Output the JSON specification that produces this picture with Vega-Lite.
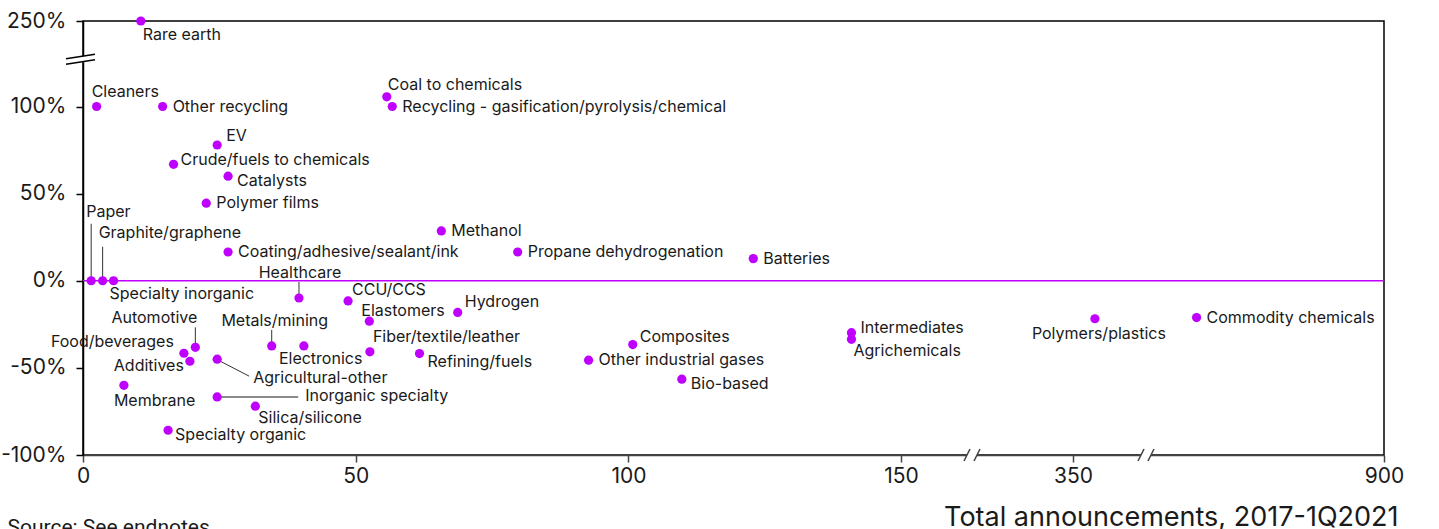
{
  "$schema": "https://vega.github.io/schema/vega-lite/v6.json",
  "width": 1301,
  "height": 434,
  "autosize": {"type": "none"},
  "padding": {"left": 83, "top": 21, "right": 55, "bottom": 74},
  "config": {
    "view": {"stroke": "#000", "strokeWidth": 1.5},
    "text": {"font": "Inter", "fontSize": 16, "fill": "#1a1a1a", "baseline": "middle"},
    "axis": {"labelFont": "Inter", "titleFont": "Inter", "labelColor": "#1a1a1a", "titleColor": "#1a1a1a", "grid": false}
  },
  "data": {"values": [
    {"category": "Rare earth", "announcements": 10.6, "change": 250},
    {"category": "Cleaners", "announcements": 2.5, "change": 100},
    {"category": "Other recycling", "announcements": 14.6, "change": 100},
    {"category": "Coal to chemicals", "announcements": 55.7, "change": 117},
    {"category": "Recycling - gasification/pyrolysis/chemical", "announcements": 56.7, "change": 100},
    {"category": "EV", "announcements": 24.6, "change": 77.9},
    {"category": "Crude/fuels to chemicals", "announcements": 16.6, "change": 66.8},
    {"category": "Catalysts", "announcements": 26.6, "change": 60},
    {"category": "Polymer films", "announcements": 22.6, "change": 44.5},
    {"category": "Paper", "announcements": 1.5, "change": 0},
    {"category": "Graphite/graphene", "announcements": 3.6, "change": 0},
    {"category": "Specialty inorganic", "announcements": 5.6, "change": 0},
    {"category": "Coating/adhesive/sealant/ink", "announcements": 26.6, "change": 16.5},
    {"category": "Methanol", "announcements": 65.7, "change": 28.6},
    {"category": "Propane dehydrogenation", "announcements": 79.7, "change": 16.5},
    {"category": "Batteries", "announcements": 122.9, "change": 12.7},
    {"category": "Healthcare", "announcements": 39.6, "change": -9.9},
    {"category": "CCU/CCS", "announcements": 48.6, "change": -11.6},
    {"category": "Elastomers", "announcements": 52.5, "change": -23.2},
    {"category": "Hydrogen", "announcements": 68.7, "change": -18.2},
    {"category": "Fiber/textile/leather", "announcements": 52.6, "change": -40.8},
    {"category": "Refining/fuels", "announcements": 61.7, "change": -41.8},
    {"category": "Composites", "announcements": 100.8, "change": -36.6},
    {"category": "Other industrial gases", "announcements": 92.7, "change": -45.6},
    {"category": "Bio-based", "announcements": 109.8, "change": -56.5},
    {"category": "Intermediates", "announcements": 140.9, "change": -29.8},
    {"category": "Agrichemicals", "announcements": 140.9, "change": -33.6},
    {"category": "Polymers/plastics", "announcements": 371, "change": -21.8},
    {"category": "Commodity chemicals", "announcements": 522, "change": -21.1},
    {"category": "Automotive", "announcements": 20.6, "change": -38.2},
    {"category": "Food/beverages", "announcements": 18.5, "change": -41.6},
    {"category": "Additives", "announcements": 19.6, "change": -46.2},
    {"category": "Metals/mining", "announcements": 34.6, "change": -37.4},
    {"category": "Electronics", "announcements": 40.5, "change": -37.4},
    {"category": "Agricultural-other", "announcements": 24.6, "change": -45},
    {"category": "Membrane", "announcements": 7.5, "change": -60},
    {"category": "Inorganic specialty", "announcements": 24.6, "change": -66.7},
    {"category": "Silica/silicone", "announcements": 31.6, "change": -72},
    {"category": "Specialty organic", "announcements": 15.6, "change": -85.8}
  ]},
  "layer": [
    {
      "data": {"values": [{"change": 0}]},
      "mark": {"type": "rule", "color": "#BF00FF", "strokeWidth": 1.5},
      "encoding": {
        "y": {"field": "change", "type": "quantitative", "scale": {"domain": [-100, 100, 250], "range": [434, 85.5, 0], "nice": false, "zero": false}}
      }
    },
    {
      "mark": {"type": "point", "opacity": 0},
      "encoding": {
        "x": {"field": "announcements", "type": "quantitative",
          "scale": {"domain": [0, 163, 350, 420, 900], "range": [0, 889, 990, 1063, 1301], "nice": false, "zero": false},
          "axis": {"values": [0, 50, 100, 150, 350, 900], "title": "Total announcements, 2017-1Q2021", "domainColor": "#444", "domainWidth": 1.5, "tickColor": "#444", "tickWidth": 1.5, "tickSize": 7, "labelFontSize": 21, "labelPadding": 3, "labelFlush": false, "labelOverlap": false, "titleFontSize": 27, "titleFontWeight": "normal", "titleAnchor": "end", "titleX": 1315, "titleY": 70, "titleAlign": "right", "titleBaseline": "alphabetic"}},
        "y": {"field": "change", "type": "quantitative",
          "scale": {"domain": [-100, 100, 250], "range": [434, 85.5, 0], "nice": false, "zero": false},
          "axis": {"values": [-100, -50, 0, 50, 100, 250], "labelExpr": "datum.value + '%'", "domainColor": "#000", "domainWidth": 1.5, "tickColor": "#000", "tickWidth": 1.5, "tickSize": 7, "labelPadding": 10, "labelFontSize": 21, "labelOverlap": false, "title": "Source: See endnotes", "titleAngle": 0, "titleX": -76, "titleY": 512, "titleAlign": "left", "titleBaseline": "alphabetic", "titleFont": "Roboto", "titleFontSize": 21, "titleFontWeight": "normal"}}
      }
    },
    {
      "data": {"values": [{"announcements": 163, "change": -100}, {"announcements": 420, "change": -100}]},
      "layer": [
        {"mark": {"type": "rule", "color": "#fff", "strokeWidth": 5, "xOffset": -5, "x2Offset": 5}},
        {"mark": {"type": "rule", "color": "#444", "strokeWidth": 1.5, "xOffset": -8, "yOffset": 6, "x2Offset": -2, "y2Offset": -6}},
        {"mark": {"type": "rule", "color": "#444", "strokeWidth": 1.5, "xOffset": 2, "yOffset": 6, "x2Offset": 8, "y2Offset": -6}}
      ],
      "encoding": {
        "x": {"field": "announcements", "type": "quantitative", "scale": {"domain": [0, 163, 350, 420, 900], "range": [0, 889, 990, 1063, 1301], "nice": false, "zero": false}},
        "x2": {"field": "announcements"},
        "y": {"field": "change", "type": "quantitative", "scale": {"domain": [-100, 100, 250], "range": [434, 85.5, 0], "nice": false, "zero": false}},
        "y2": {"field": "change"}
      }
    },
    {
      "data": {"values": [{"announcements": 0, "change": 183}]},
      "layer": [
        {"mark": {"type": "rule", "color": "#fff", "strokeWidth": 5, "yOffset": -3, "y2Offset": 3}},
        {"mark": {"type": "rule", "color": "#000", "strokeWidth": 1.5, "xOffset": -17, "yOffset": -0.5, "x2Offset": 12, "y2Offset": -5}},
        {"mark": {"type": "rule", "color": "#000", "strokeWidth": 1.5, "xOffset": -17, "yOffset": 5, "x2Offset": 12, "y2Offset": 0.5}}
      ],
      "encoding": {
        "x": {"field": "announcements", "type": "quantitative", "scale": {"domain": [0, 163, 350, 420, 900], "range": [0, 889, 990, 1063, 1301], "nice": false, "zero": false}},
        "x2": {"field": "announcements"},
        "y": {"field": "change", "type": "quantitative", "scale": {"domain": [-100, 100, 250], "range": [434, 85.5, 0], "nice": false, "zero": false}},
        "y2": {"field": "change"}
      }
    },
    {
      "encoding": {
        "x": {"field": "announcements", "type": "quantitative", "scale": {"domain": [0, 163, 350, 420, 900], "range": [0, 889, 990, 1063, 1301], "nice": false, "zero": false}},
        "x2": {"field": "announcements"},
        "y": {"field": "change", "type": "quantitative", "scale": {"domain": [-100, 100, 250], "range": [434, 85.5, 0], "nice": false, "zero": false}},
        "y2": {"field": "change"}
      },
      "layer": [
        {"transform": [{"filter": "datum.category === 'Paper'"}], "mark": {"type": "rule", "color": "#333", "strokeWidth": 1, "y2Offset": -57}},
        {"transform": [{"filter": "datum.category === 'Graphite/graphene'"}], "mark": {"type": "rule", "color": "#333", "strokeWidth": 1, "y2Offset": -34}},
        {"transform": [{"filter": "datum.category === 'Healthcare'"}], "mark": {"type": "rule", "color": "#333", "strokeWidth": 1, "y2Offset": -16}},
        {"transform": [{"filter": "datum.category === 'Automotive'"}], "mark": {"type": "rule", "color": "#333", "strokeWidth": 1, "y2Offset": -20}},
        {"transform": [{"filter": "datum.category === 'Metals/mining'"}], "mark": {"type": "rule", "color": "#333", "strokeWidth": 1, "y2Offset": -16}},
        {"transform": [{"filter": "datum.category === 'Agricultural-other'"}], "mark": {"type": "rule", "color": "#333", "strokeWidth": 1, "xOffset": 3, "yOffset": 2, "x2Offset": 32, "y2Offset": 17}},
        {"transform": [{"filter": "datum.category === 'Inorganic specialty'"}], "mark": {"type": "rule", "color": "#8a8a8a", "strokeWidth": 2, "x2Offset": 81}}
      ]
    },
    {
      "mark": {"type": "circle", "size": 85, "color": "#BF00FF", "opacity": 1},
      "encoding": {
        "x": {"field": "announcements", "type": "quantitative", "scale": {"domain": [0, 163, 350, 420, 900], "range": [0, 889, 990, 1063, 1301], "nice": false, "zero": false}},
        "y": {"field": "change", "type": "quantitative", "scale": {"domain": [-100, 100, 250], "range": [434, 85.5, 0], "nice": false, "zero": false}}
      }
    },
    {
      "encoding": {
        "x": {"field": "announcements", "type": "quantitative", "scale": {"domain": [0, 163, 350, 420, 900], "range": [0, 889, 990, 1063, 1301], "nice": false, "zero": false}},
        "y": {"field": "change", "type": "quantitative", "scale": {"domain": [-100, 100, 250], "range": [434, 85.5, 0], "nice": false, "zero": false}},
        "text": {"field": "category"}
      },
      "layer": [
        {"transform": [{"filter": {"field": "category", "oneOf": ["Other recycling", "Recycling - gasification/pyrolysis/chemical", "Polymer films", "Coating/adhesive/sealant/ink", "Methanol", "Propane dehydrogenation", "Batteries", "Other industrial gases", "Commodity chemicals"]}}], "mark": {"type": "text", "align": "left", "dx": 10, "dy": 0}},
        {"transform": [{"filter": "datum.category === 'Rare earth'"}], "mark": {"type": "text", "align": "left", "dx": 2, "dy": 14}},
        {"transform": [{"filter": "datum.category === 'Cleaners'"}], "mark": {"type": "text", "align": "left", "dx": -5, "dy": -15}},
        {"transform": [{"filter": "datum.category === 'Coal to chemicals'"}], "mark": {"type": "text", "align": "left", "dx": 1, "dy": -12}},
        {"transform": [{"filter": "datum.category === 'EV'"}], "mark": {"type": "text", "align": "left", "dx": 9, "dy": -9}},
        {"transform": [{"filter": "datum.category === 'Crude/fuels to chemicals'"}], "mark": {"type": "text", "align": "left", "dx": 7, "dy": -4}},
        {"transform": [{"filter": "datum.category === 'Catalysts'"}], "mark": {"type": "text", "align": "left", "dx": 9, "dy": 5}},
        {"transform": [{"filter": "datum.category === 'Paper'"}], "mark": {"type": "text", "align": "left", "dx": -5, "dy": -69}},
        {"transform": [{"filter": "datum.category === 'Graphite/graphene'"}], "mark": {"type": "text", "align": "left", "dx": -4, "dy": -48}},
        {"transform": [{"filter": "datum.category === 'Specialty inorganic'"}], "mark": {"type": "text", "align": "left", "dx": -4, "dy": 13}},
        {"transform": [{"filter": "datum.category === 'Healthcare'"}], "mark": {"type": "text", "align": "center", "dx": 1, "dy": -25}},
        {"transform": [{"filter": "datum.category === 'CCU/CCS'"}], "mark": {"type": "text", "align": "left", "dx": 4, "dy": -11}},
        {"transform": [{"filter": "datum.category === 'Elastomers'"}], "mark": {"type": "text", "align": "left", "dx": -8, "dy": -10}},
        {"transform": [{"filter": "datum.category === 'Hydrogen'"}], "mark": {"type": "text", "align": "left", "dx": 7, "dy": -10}},
        {"transform": [{"filter": "datum.category === 'Fiber/textile/leather'"}], "mark": {"type": "text", "align": "left", "dx": 3, "dy": -15}},
        {"transform": [{"filter": "datum.category === 'Refining/fuels'"}], "mark": {"type": "text", "align": "left", "dx": 8, "dy": 8}},
        {"transform": [{"filter": "datum.category === 'Composites'"}], "mark": {"type": "text", "align": "left", "dx": 7, "dy": -8}},
        {"transform": [{"filter": "datum.category === 'Bio-based'"}], "mark": {"type": "text", "align": "left", "dx": 9, "dy": 5}},
        {"transform": [{"filter": "datum.category === 'Intermediates'"}], "mark": {"type": "text", "align": "left", "dx": 9, "dy": -5}},
        {"transform": [{"filter": "datum.category === 'Agrichemicals'"}], "mark": {"type": "text", "align": "left", "dx": 2, "dy": 12}},
        {"transform": [{"filter": "datum.category === 'Polymers/plastics'"}], "mark": {"type": "text", "align": "center", "dx": 4, "dy": 15}},
        {"transform": [{"filter": "datum.category === 'Automotive'"}], "mark": {"type": "text", "align": "right", "dx": 2, "dy": -29}},
        {"transform": [{"filter": "datum.category === 'Food/beverages'"}], "mark": {"type": "text", "align": "right", "dx": -10, "dy": -11}},
        {"transform": [{"filter": "datum.category === 'Additives'"}], "mark": {"type": "text", "align": "right", "dx": -6, "dy": 5}},
        {"transform": [{"filter": "datum.category === 'Metals/mining'"}], "mark": {"type": "text", "align": "center", "dx": 3, "dy": -25}},
        {"transform": [{"filter": "datum.category === 'Electronics'"}], "mark": {"type": "text", "align": "left", "dx": -25, "dy": 13}},
        {"transform": [{"filter": "datum.category === 'Agricultural-other'"}], "mark": {"type": "text", "align": "left", "dx": 36, "dy": 19}},
        {"transform": [{"filter": "datum.category === 'Membrane'"}], "mark": {"type": "text", "align": "left", "dx": -10, "dy": 16}},
        {"transform": [{"filter": "datum.category === 'Inorganic specialty'"}], "mark": {"type": "text", "align": "left", "dx": 88, "dy": -1}},
        {"transform": [{"filter": "datum.category === 'Silica/silicone'"}], "mark": {"type": "text", "align": "left", "dx": 3, "dy": 12}},
        {"transform": [{"filter": "datum.category === 'Specialty organic'"}], "mark": {"type": "text", "align": "left", "dx": 7, "dy": 5}}
      ]
    }
  ]
}
